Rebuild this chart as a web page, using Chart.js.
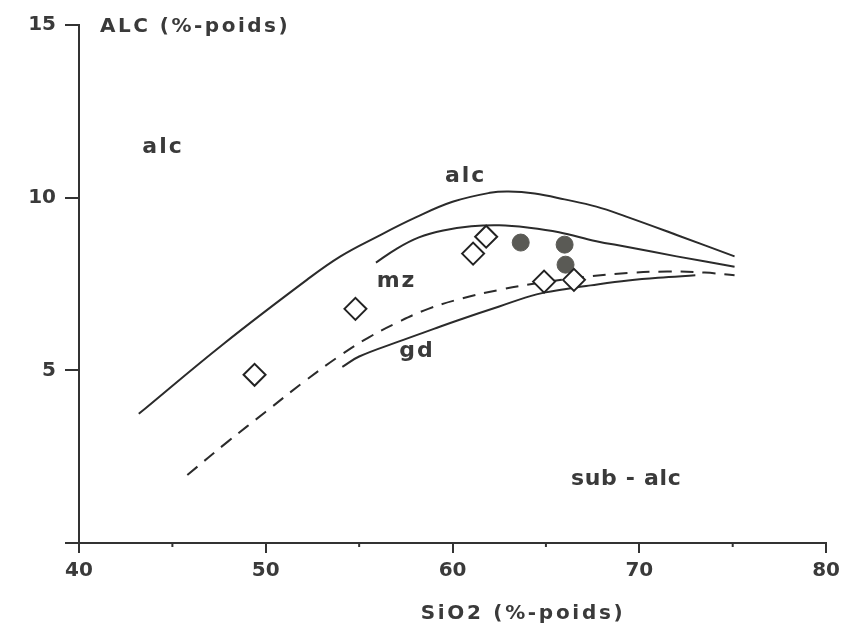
<!DOCTYPE html>
<html><head><meta charset="utf-8">
<script src="https://cdn.jsdelivr.net/npm/chart.js@4/dist/chart.umd.min.js"></script>
<style>html,body{margin:0;padding:0;background:#fff}#wrap{width:846px;height:628px}</style>
</head><body><div id="wrap"><canvas id="c" width="846" height="628"></canvas></div>
<script>
// ---- data ----
const xTickLabels = [40, 50, 60, 70, 80];
const xMinorTicks = [45, 55, 65, 75];
const yTickLabels = [5, 10, 15];

// upper boundary (alc)
const alcX = [43.2, 47.7, 52.2, 54.0, 56.0, 58.0, 60.0, 62.0, 63.0, 64.4, 66.0, 67.7, 69.3, 72.0, 75.1];
const alcY = [3.74, 5.75, 7.62, 8.30, 8.88, 9.42, 9.88, 10.14, 10.18, 10.12, 9.95, 9.74, 9.45, 8.92, 8.30];
// mz upper boundary
const mzX = [55.9, 57.0, 58.2, 59.5, 61.0, 62.5, 64.1, 65.7, 67.7, 69.3, 72.0, 75.1];
const mzY = [8.12, 8.52, 8.85, 9.05, 9.17, 9.20, 9.13, 9.00, 8.74, 8.58, 8.30, 8.00];
// dashed boundary
const dashX = [45.8, 48.0, 50.0, 52.0, 53.9, 55.5, 57.1, 58.7, 60.5, 62.5, 64.5, 67.0, 69.4, 71.5, 73.5, 75.1];
const dashY = [1.97, 2.95, 3.80, 4.65, 5.40, 5.95, 6.40, 6.78, 7.08, 7.33, 7.52, 7.70, 7.82, 7.86, 7.83, 7.75];
// gd lower boundary
const gdX = [54.1, 55.0, 57.1, 59.0, 60.3, 62.5, 64.5, 66.0, 67.4, 69.4, 71.0, 73.0];
const gdY = [5.10, 5.40, 5.83, 6.20, 6.45, 6.85, 7.20, 7.35, 7.46, 7.60, 7.68, 7.75];

// samples
const diamondX = [49.4, 54.8, 61.1, 61.8, 64.9, 66.5];
const diamondY = [4.87, 6.78, 8.38, 8.87, 7.57, 7.62];
const circleX = [63.65, 66.0, 66.05];
const circleY = [8.70, 8.64, 8.06];

// field labels
const fieldNames = ['alc', 'alc', 'mz', 'gd', 'sub - alc'];
const fieldX = [44.5, 60.7, 57.0, 58.1, 69.3];
const fieldY = [11.30, 10.46, 7.42, 5.39, 1.68];

const yTitle = 'ALC (%-poids)';
const xTitle = 'SiO2 (%-poids)';

// ---- build ----
const pts = (xs, ys) => xs.map((v, i) => ({x: v, y: ys[i]}));
const LINE = '#2b2b2b';
const TEXT = '#3a3a3a';
const FONT = '"DejaVu Sans", sans-serif';

const lineDs = (label, xs, ys, dash) => ({
  label, data: pts(xs, ys), showLine: true, pointRadius: 0, borderColor: LINE,
  borderWidth: 2, tension: 0.4, fill: false,
  borderDash: dash || [], order: 2
});

const overlay = {
  id: 'overlay',
  afterDraw(chart) {
    const {ctx, scales: {x, y}, chartArea} = chart;
    ctx.save();
    ctx.strokeStyle = '#333';
    ctx.lineWidth = 2;
    const base = y.getPixelForValue(0);
    xMinorTicks.forEach(v => {
      const px = x.getPixelForValue(v);
      ctx.beginPath(); ctx.moveTo(px, base); ctx.lineTo(px, base + 4); ctx.stroke();
    });
    ctx.fillStyle = TEXT;
    ctx.textBaseline = 'alphabetic';
    ctx.textAlign = 'center';
    ctx.font = 'bold 22px ' + FONT;
    fieldNames.forEach((t, i) => {
      ctx.letterSpacing = t.length > 4 ? '0.7px' : '2px';
      ctx.fillText(t, x.getPixelForValue(fieldX[i]), y.getPixelForValue(fieldY[i]));
    });
    ctx.font = 'bold 20px ' + FONT;
    ctx.letterSpacing = '2.5px';
    ctx.textAlign = 'left';
    ctx.fillText(yTitle, chartArea.left + 21, chartArea.top + 7);
    ctx.textAlign = 'center';
    ctx.letterSpacing = '2.7px';
    ctx.fillText(xTitle, 523, 619);
    ctx.restore();
  }
};

new Chart(document.getElementById('c'), {
  type: 'scatter',
  data: {
    datasets: [
      {label: 'diamonds', data: pts(diamondX, diamondY), pointStyle: 'rectRot', pointRadius: 11,
       borderColor: '#222', backgroundColor: '#fff', borderWidth: 2, order: 0},
      {label: 'circles', data: pts(circleX, circleY), pointStyle: 'circle', pointRadius: 8.5,
       borderColor: '#5a5a55', backgroundColor: '#5a5a55', borderWidth: 1, order: 0},
      lineDs('alc', alcX, alcY),
      lineDs('mz', mzX, mzY),
      lineDs('dash', dashX, dashY, [13, 9]),
      lineDs('gd', gdX, gdY)
    ]
  },
  options: {
    responsive: false, animation: false, devicePixelRatio: 1,
    layout: {padding: {top: 25, right: 18, left: 0, bottom: 0}},
    plugins: {legend: {display: false}, tooltip: {enabled: false}},
    scales: {
      x: {
        type: 'linear', min: 40, max: 80,
        afterBuildTicks: s => { s.ticks = xTickLabels.map(v => ({value: v})); },
        afterFit: s => { s.height = 85; },
        grid: {drawOnChartArea: false, drawTicks: true, tickLength: 10, color: '#333', lineWidth: 2},
        border: {display: true, color: '#333', width: 2},
        ticks: {font: {family: FONT, weight: 'bold', size: 20}, color: TEXT, padding: 6,
                maxRotation: 0, autoSkip: false}
      },
      y: {
        type: 'linear', min: 0, max: 15,
        afterBuildTicks: s => { s.ticks = [0].concat(yTickLabels).map(v => ({value: v})); },
        afterFit: s => { s.width = 79; },
        grid: {drawOnChartArea: false, drawTicks: true, tickLength: 14, color: '#333', lineWidth: 2},
        border: {display: true, color: '#333', width: 2},
        ticks: {font: {family: FONT, weight: 'bold', size: 20}, color: TEXT, padding: 9,
                callback: v => (v === 0 ? '' : String(v))}
      }
    }
  },
  plugins: [overlay]
});
</script></body></html>
